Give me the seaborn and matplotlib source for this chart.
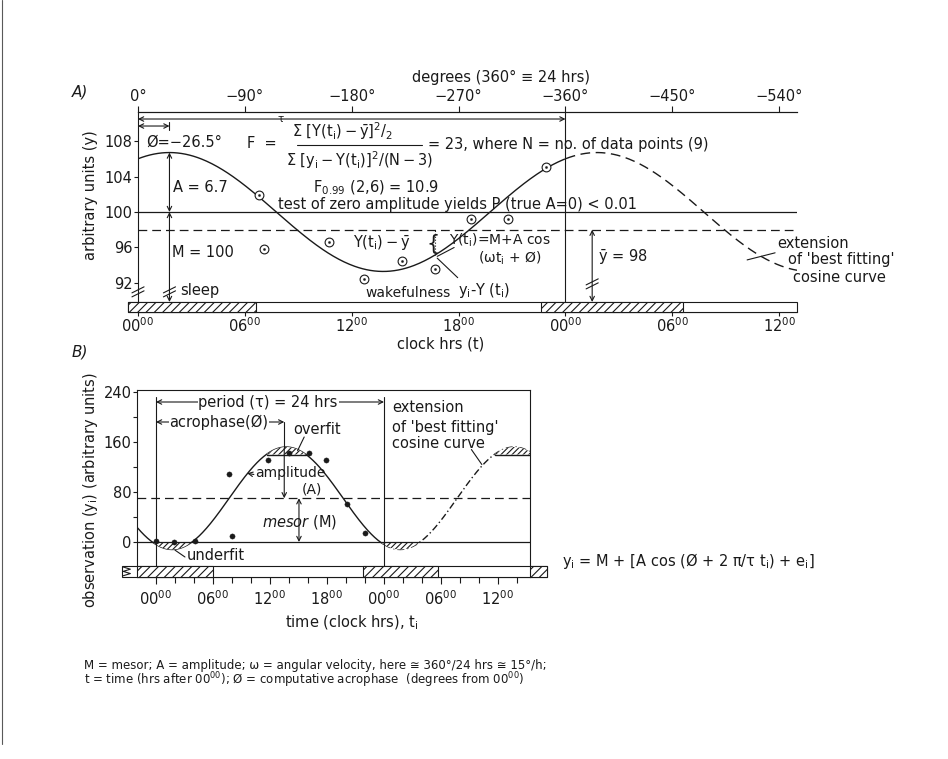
import numpy as np
import pandas as pd
import matplotlib
matplotlib.use('Agg')
import matplotlib.pyplot as plt
import seaborn as sns
from matplotlib.patches import Rectangle
from matplotlib.lines import Line2D

# ---------------- panel A: 9 observations and the fitted cosine
a_times = [6.8, 7.1, 10.7, 12.7, 14.8, 16.7, 18.7, 20.75, 22.9]
a_values = [101.9, 95.8, 96.6, 92.5, 94.5, 93.6, 99.2, 99.2, 105.1]
a_mesor = 100
a_amp = 6.7
a_acro = -26.5          # degrees
a_ybar = 98
a_sleep = [(-0.56, 6.6), (22.6, 30.6)]
a_yticks = [92, 96, 100, 104, 108]
deg_ticks = [0, 6, 12, 18, 24, 30, 36]
deg_labels = ['0°', '−90°', '−180°', '−270°', '−360°', '−450°', '−540°']
clock_ticks = [0, 6, 12, 18, 24, 30, 36]
clock_labels = ['00', '06', '12', '18', '00', '06', '12']

# ---------------- panel B: 11 observations and the fitted cosine
b_times = [0, 1.9, 4.1, 7.7, 8.0, 11.8, 14.0, 16.1, 17.9, 20.1, 22.0]
b_values = [2, 0, 1, 109, 9, 131, 143, 143, 131, 61, 15]
b_mesor = 70
b_amp = 82
b_peak = 13.7           # hrs, acrophase
b_plateau = 140
b_sleep = [(-2, 6), (21.8, 29.7), (39.37, 41.16)]
b_yticks = [0, 80, 160, 240]
b_yminor = [40, 120, 200]

W, H = 948, 759
FS = 10.5

sns.set_theme(style='ticks')
plt.rcParams['font.family'] = ['DejaVu Sans']
plt.rcParams['mathtext.fontset'] = 'dejavusans'
plt.rcParams['mathtext.default'] = 'regular'
plt.rcParams['hatch.linewidth'] = 0.8
plt.rcParams['axes.linewidth'] = 0.8
for key in ('text.color', 'xtick.color', 'ytick.color', 'axes.edgecolor', 'axes.labelcolor'):
    plt.rcParams[key] = 'k'

fig = plt.figure(figsize=(W / 100, H / 100), dpi=100)
fig.patch.set_facecolor('white')


def ftext(px, py, s, **kw):
    kw.setdefault('fontsize', FS)
    kw.setdefault('va', 'center')
    kw.setdefault('color', 'k')
    fig.text(px / W, 1 - py / H, s, **kw)


def arrow(ax, x0, y0, x1, y1, style='<->'):
    ax.annotate('', xy=(x1, y1), xytext=(x0, y0),
                arrowprops=dict(arrowstyle=style, color='k', lw=0.8,
                                shrinkA=0, shrinkB=0, mutation_scale=8))


def break_mark(ax, x, y, dx, dy, gap):
    for k in (-0.5, 0.5):
        ax.plot([x - dx, x + dx], [y - dy + k * gap, y + dy + k * gap],
                color='k', lw=0.8, clip_on=False)


def sleep_bar(ax, x0, x1, y0, y1, sleep):
    ax.add_patch(Rectangle((x0, y0), x1 - x0, y1 - y0, facecolor='white',
                           edgecolor='k', lw=0.8, clip_on=False, zorder=3))
    for s0, s1 in sleep:
        ax.add_patch(Rectangle((s0, y0), s1 - s0, y1 - y0, facecolor='white',
                               edgecolor='k', hatch='////', lw=0.8,
                               clip_on=False, zorder=3))


# ======================= panel A =======================
axA = fig.add_axes([138 / W, 1 - 312 / H, 659 / W, 200 / H])
axA.set_xlim(0, 37)
axA.set_ylim(88.73, 111.27)
axA.spines['right'].set_visible(False)

t_a = np.linspace(0, 37, 500)
curve_a = pd.DataFrame({'t': t_a,
                        'y': a_mesor + a_amp * np.cos(np.radians(15 * t_a + a_acro))})
sns.lineplot(data=curve_a[curve_a.t <= 24], x='t', y='y', color='k', lw=1.0, ax=axA)
sns.lineplot(data=curve_a[curve_a.t >= 24], x='t', y='y', color='k', lw=1.0,
             linestyle=(0, (7, 4)), ax=axA)

axA.axhline(a_mesor, color='k', lw=0.9)
axA.axhline(a_ybar, color='k', lw=0.9, linestyle=(0, (7, 4)))
axA.plot([24, 24], [88.73, 111.27], color='k', lw=0.8)

sns.scatterplot(x=a_times, y=a_values, marker='o', s=40, facecolor='white',
                edgecolor='k', linewidth=0.8, ax=axA, zorder=5)
sns.scatterplot(x=a_times, y=a_values, marker='o', s=3, color='k',
                edgecolor='k', ax=axA, zorder=6)

sleep_bar(axA, -0.56, 37, 88.73, 89.86, a_sleep)

axA.set_xticks(clock_ticks, labels=[r'$%s^{00}$' % c for c in clock_labels])
axA.set_yticks(a_yticks)
axA.tick_params(axis='x', length=3, pad=0, labelsize=FS, width=0.8)
axA.tick_params(axis='y', length=3, pad=1, labelsize=FS, width=0.8)
axA.set_xlabel('')
axA.set_ylabel('')

sec = axA.secondary_xaxis('top')
sec.set_xticks(deg_ticks, labels=deg_labels)
sec.tick_params(length=4, pad=2, labelsize=FS, width=0.8)

# annotations A
pk = -a_acro / 15
arrow(axA, 0, 110.48, 24, 110.48)
axA.text(8, 110.48, 'τ', fontsize=7.5, ha='center', va='center')
arrow(axA, 0, 109.69, pk, 109.69)
axA.plot([pk, pk], [109.2, 110.1], color='k', lw=0.8)
arrow(axA, pk, a_mesor, pk, a_mesor + a_amp)
arrow(axA, pk, a_mesor, pk, 89.86)
break_mark(axA, pk, 91.0, 0.34, 0.34, 0.45)
break_mark(axA, 0, 91.0, 0.34, 0.34, 0.45)
arrow(axA, 25.5, a_ybar, 25.5, 89.86)
break_mark(axA, 25.5, 91.9, 0.34, 0.34, 0.45)

t_dev = 16.7
y_dev = a_mesor + a_amp * np.cos(np.radians(15 * t_dev + a_acro))
axA.plot([t_dev, t_dev], [y_dev, a_ybar], color='k', lw=0.8, linestyle=':')
axA.plot([16.8, 17.75], [95.0, 96.0], color='k', lw=0.8)
axA.plot([16.8, 17.95], [94.8, 92.6], color='k', lw=0.8)
axA.plot([34.2, 35.77], [94.6, 95.4], color='k', lw=0.8)

ftext(72, 92, 'A)', style='italic', fontsize=11)
ftext(412, 77, 'degrees (360° ≡ 24 hrs)')
ftext(146, 142, 'Ø=−26.5°')
ftext(247, 144, 'F  =')
ftext(343, 131, r'$\Sigma\ [Y(t_i)-\bar{y}]^2/_2$', ha='center')
fig.add_artist(Line2D([297 / W, 422 / W], [1 - 145 / H, 1 - 145 / H], color='k', lw=0.8))
ftext(360, 160, r'$\Sigma\ [y_i-Y(t_i)]^2/(N-3)$', ha='center')
ftext(428, 145, '= 23, where N = no. of data points (9)')
ftext(173, 188, 'A = 6.7')
ftext(313, 188, r'$F_{0.99}$ (2,6) = 10.9')
ftext(278, 205, 'test of zero amplitude yields P (true A=0) < 0.01')
ftext(172, 252, 'M = 100')
ftext(180, 291, 'sleep')
ftext(353, 243, r'$Y(t_i) - \bar{y}$')
ftext(426, 244, '{', fontsize=15)
ftext(449, 240, r'$Y(t_i)$=M+A cos', fontsize=10)
ftext(478, 258, r'(ω$t_i$ + Ø)', fontsize=10)
ftext(365, 293, 'wakefulness', fontsize=10)
ftext(458, 291, r'$y_i$-Y ($t_i$)')
ftext(598, 257, r'$\bar{y}$ = 98')
ftext(777, 243, 'extension')
ftext(788, 260, "of 'best fitting'")
ftext(793, 277, 'cosine curve')
ftext(397, 344, 'clock hrs (t)')
ftext(90, 195, 'arbitrary units (y)', rotation=90, ha='center')

# ======================= panel B =======================
axB = fig.add_axes([137 / W, 1 - 577 / H, 393 / W, 187 / H])
axB.set_xlim(-2, 39.37)
axB.set_ylim(-56, 243.2)

t_b = np.linspace(-2, 39.37, 600)
y_b = b_mesor + b_amp * np.cos(2 * np.pi * (t_b - b_peak) / 24)
curve_b = pd.DataFrame({'t': t_b, 'y': y_b})
sns.lineplot(data=curve_b[curve_b.t <= 24], x='t', y='y', color='k', lw=1.0, ax=axB)
sns.lineplot(data=curve_b[curve_b.t >= 24], x='t', y='y', color='k', lw=1.0,
             linestyle=(0, (5, 2, 1, 2)), ax=axB)

axB.fill_between(t_b, y_b, b_plateau, where=y_b > b_plateau, facecolor='white',
                 edgecolor='k', hatch='//////', lw=0, zorder=2)
axB.plot(t_b, np.where(y_b > b_plateau, b_plateau, np.nan), color='k', lw=1.0)
axB.fill_between(t_b, y_b, 0, where=y_b < 0, facecolor='white',
                 edgecolor='k', hatch='//////', lw=0, zorder=2)

axB.axhline(0, color='k', lw=0.9)
axB.axhline(b_mesor, color='k', lw=0.9, linestyle=(0, (7, 4)))

sns.scatterplot(x=b_times, y=b_values, s=14, color='k', edgecolor='k', ax=axB, zorder=5)

sleep_bar(axB, -3.58, 41.16, -56, -38.4, b_sleep)
zz_y = np.linspace(-54, -40, 5)
axB.plot([-3.45, -2.7, -3.45, -2.7, -3.45], zz_y, color='k', lw=0.8, clip_on=False, zorder=4)

axB.set_xticks(clock_ticks, labels=[r'$%s^{00}$' % c for c in clock_labels])
axB.set_xticks(np.arange(0, 39, 2), minor=True)
axB.set_yticks(b_yticks)
axB.set_yticks(b_yminor, minor=True)
axB.tick_params(axis='x', which='major', length=5, pad=4, labelsize=FS, width=0.8)
axB.tick_params(axis='x', which='minor', length=4, width=0.8)
axB.tick_params(axis='y', which='major', length=3, pad=1, labelsize=FS, width=0.8)
axB.tick_params(axis='y', which='minor', length=3, width=0.8)
axB.set_xlabel('')
axB.set_ylabel('')

# annotations B
for tv in (0, 24):
    axB.plot([tv, tv], [-38.4, 232], color='k', lw=0.8)
arrow(axB, 0, 224, 24, 224)
axB.text(11.8, 224, 'period (τ) = 24 hrs', fontsize=FS, ha='center', va='center',
         bbox=dict(fc='white', ec='none', pad=0.5))
arrow(axB, 0, 192, b_peak - 0.2, 192)
axB.text(6.6, 192, 'acrophase(Ø)', fontsize=FS, ha='center', va='center',
         bbox=dict(fc='white', ec='none', pad=0.3))
axB.plot([b_peak - 0.2, b_peak - 0.2], [192, 150], color='k', lw=0.8)
arrow(axB, b_peak - 0.2, 150, b_peak - 0.2, b_mesor, style='->')
arrow(axB, 15.05, b_mesor, 15.05, 0)
arrow(axB, 10.3, 108, 9.6, 110, style='->')
axB.plot([15.6, 14.9], [168, 146], color='k', lw=0.8)
axB.plot([2.0, 3.05], [-13, -24], color='k', lw=0.8)
axB.plot([33.2, 34.3], [148, 124], color='k', lw=0.8)

ftext(72, 352, 'B)', style='italic', fontsize=11)
ftext(317, 430, 'overfit', ha='center')
ftext(290, 473, 'amplitude', ha='center', fontsize=10)
ftext(312, 489, '(A)', ha='center', fontsize=10)
ftext(300, 522, r'$\mathit{mesor}$ (M)', ha='center')
ftext(216, 556, 'underfit', ha='center')
ftext(392, 408, 'extension')
ftext(392, 427, "of 'best fitting'")
ftext(392, 443, 'cosine curve')
ftext(562, 561, r'$y_i$ = M + [A cos (Ø + 2 π/τ $t_i$) + $e_i$]', fontsize=10.5)
ftext(352, 623, r'time (clock hrs), $t_i$', ha='center')
ftext(90, 490, r'observation ($y_i$) (arbitrary units)', rotation=90, ha='center')

# footnote
ftext(84, 665, 'M = mesor; A = amplitude; ω = angular velocity, here ≅ 360°/24 hrs ≅ 15°/h;',
      fontsize=8.5)
ftext(84, 680, r't = time (hrs after $00^{00}$); Ø = computative acrophase  (degrees from $00^{00}$)',
      fontsize=8.5)

fig.add_artist(Line2D([2 / W, 2 / W], [0.02, 1.0], color='0.35', lw=0.8))

fig.savefig('out.png', dpi=100, facecolor='white')
